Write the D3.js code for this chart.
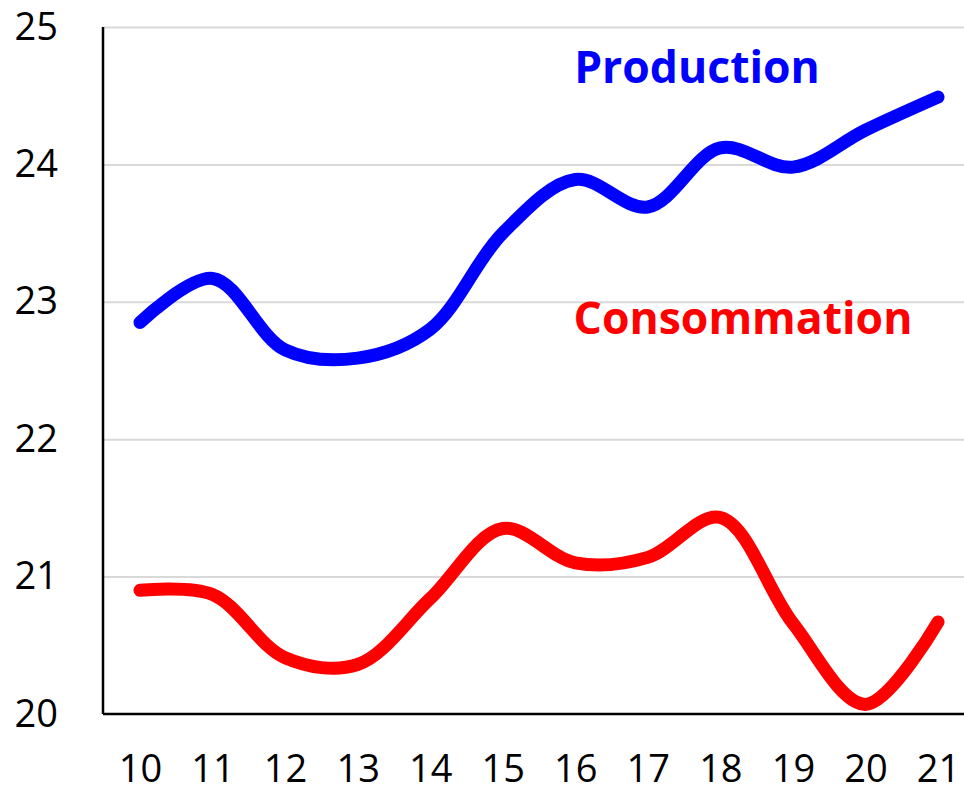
<!DOCTYPE html>
<html>
<head>
<meta charset="utf-8">
<script src="https://cdn.jsdelivr.net/npm/d3@7"></script>
<style>
  body { margin: 0; background: #fff; }
  text { font-family: "Open Sans", "Noto Sans", sans-serif; }
</style>
</head>
<body>
<div id="chart"></div>
<script>
var years = ["10", "11", "12", "13", "14", "15", "16", "17", "18", "19", "20", "21"];
var production = [22.85, 23.17, 22.65, 22.59, 22.8, 23.5, 23.89, 23.69, 24.12, 23.98, 24.25, 24.49];
var consommation = [20.9, 20.87, 20.41, 20.36, 20.84, 21.35, 21.1, 21.14, 21.43, 20.66, 20.07, 20.67];
var yTicks = [20, 21, 22, 23, 24, 25];

var width = 964, height = 792;

var svg = d3.select("#chart")
    .append("svg")
    .attr("width", width)
    .attr("height", height);

var x = d3.scalePoint()
    .domain(years)
    .range([140, 938]);

var y = d3.scaleLinear()
    .domain([20, 25])
    .range([714, 27]);

// gridlines
svg.append("g")
    .attr("class", "grid")
    .attr("transform", "translate(103,0)")
    .call(d3.axisLeft(y)
        .tickValues(yTicks.slice(1))
        .tickSize(-(width - 103))
        .tickFormat("")
    )
    .call(function(g) {
        g.select(".domain").remove();
        g.selectAll("line").attr("stroke", "#d9d9d9").attr("stroke-width", 2);
    });

// y axis labels
svg.append("g")
    .attr("transform", "translate(103,0)")
    .call(d3.axisLeft(y).tickValues(yTicks).tickFormat(d3.format("d")).tickSize(0).tickPadding(45))
    .call(function(g) {
        g.select(".domain").remove();
        g.selectAll("text")
            .attr("font-size", 38)
            .attr("font-family", "'Open Sans', sans-serif")
            .attr("fill", "#000");
    });

// x axis labels
svg.append("g")
    .attr("transform", "translate(0,714)")
    .call(d3.axisBottom(x).tickSize(0).tickPadding(41))
    .call(function(g) {
        g.select(".domain").remove();
        g.selectAll("text")
            .attr("font-size", 38)
            .attr("font-family", "'Open Sans', sans-serif")
            .attr("fill", "#000");
    });

// axis lines
svg.append("line")
    .attr("x1", 103).attr("x2", 103)
    .attr("y1", y(25)).attr("y2", y(20))
    .attr("stroke", "#000").attr("stroke-width", 2.5);

svg.append("line")
    .attr("x1", 103).attr("x2", width)
    .attr("y1", y(20)).attr("y2", y(20))
    .attr("stroke", "#000").attr("stroke-width", 2.5);

var line = d3.line()
    .x(function(d, i) { return x(years[i]); })
    .y(function(d) { return y(d); })
    .curve(d3.curveCatmullRom.alpha(0.5));

svg.append("path")
    .datum(consommation)
    .attr("d", line)
    .attr("fill", "none")
    .attr("stroke", "#ff0000")
    .attr("stroke-width", 13)
    .attr("stroke-linecap", "round")
    .attr("stroke-linejoin", "round");

svg.append("path")
    .datum(production)
    .attr("d", line)
    .attr("fill", "none")
    .attr("stroke", "#0000ff")
    .attr("stroke-width", 13)
    .attr("stroke-linecap", "round")
    .attr("stroke-linejoin", "round");

// series labels
svg.append("text")
    .attr("x", 697)
    .attr("y", 83)
    .attr("text-anchor", "middle")
    .attr("font-size", 44.5)
    .attr("font-weight", "bold")
    .attr("fill", "#0000ff")
    .text("Production");

svg.append("text")
    .attr("x", 743)
    .attr("y", 334)
    .attr("text-anchor", "middle")
    .attr("font-size", 44.5)
    .attr("font-weight", "bold")
    .attr("fill", "#ff0000")
    .text("Consommation");
</script>
</body>
</html>
